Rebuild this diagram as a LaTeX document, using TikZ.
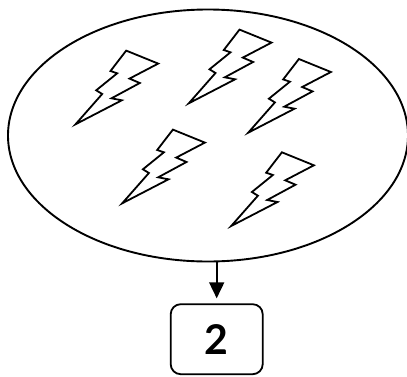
\documentclass[tikz,border=0pt]{standalone}
\usepackage{fontspec}
\newfontfamily\numfont{Lato}
\usetikzlibrary{arrows.meta,shapes.geometric}
\tikzset{
  x=1pt,y=-1pt,
  bolt/.pic={\draw[line width=1.8pt,line join=miter,fill=white] (0,0) -- (26.7,-30.3) -- (20.7,-34) -- (41.7,-51) -- (35,-53.3) -- (50.7,-73.7) -- (82.7,-60.7) -- (54,-45.7) -- (64.3,-41.3) -- (36,-26) -- (46.3,-24) -- cycle;},
  cloud/.style={draw,ellipse,line width=1.9pt,minimum width=400pt,minimum height=252pt,inner sep=0pt},
  valbox/.style={draw,rounded corners=10pt,line width=1.8pt,minimum width=92pt,minimum height=70pt,inner sep=0pt,font=\fontsize{41}{41}\numfont\bfseries},
  link/.style={line width=1.7pt,-{Triangle[length=16pt,width=15pt]}}
}
\begin{document}
\begin{tikzpicture}
\useasboundingbox (0,0) rectangle (407,376);
\node[cloud] (e) at (208,135.5) {};
\node[valbox] (b) at (216.7,339.2) {2};
\draw[link,shorten >=5pt] (e.south -| b.north) -- (b.north);
\pic at (75.5,124.3) {bolt};
\pic at (188.8,103.3) {bolt};
\pic at (248.2,132.7) {bolt};
\pic at (122.2,203.3) {bolt};
\pic at (231.2,226) {bolt};
\end{tikzpicture}
\end{document}
